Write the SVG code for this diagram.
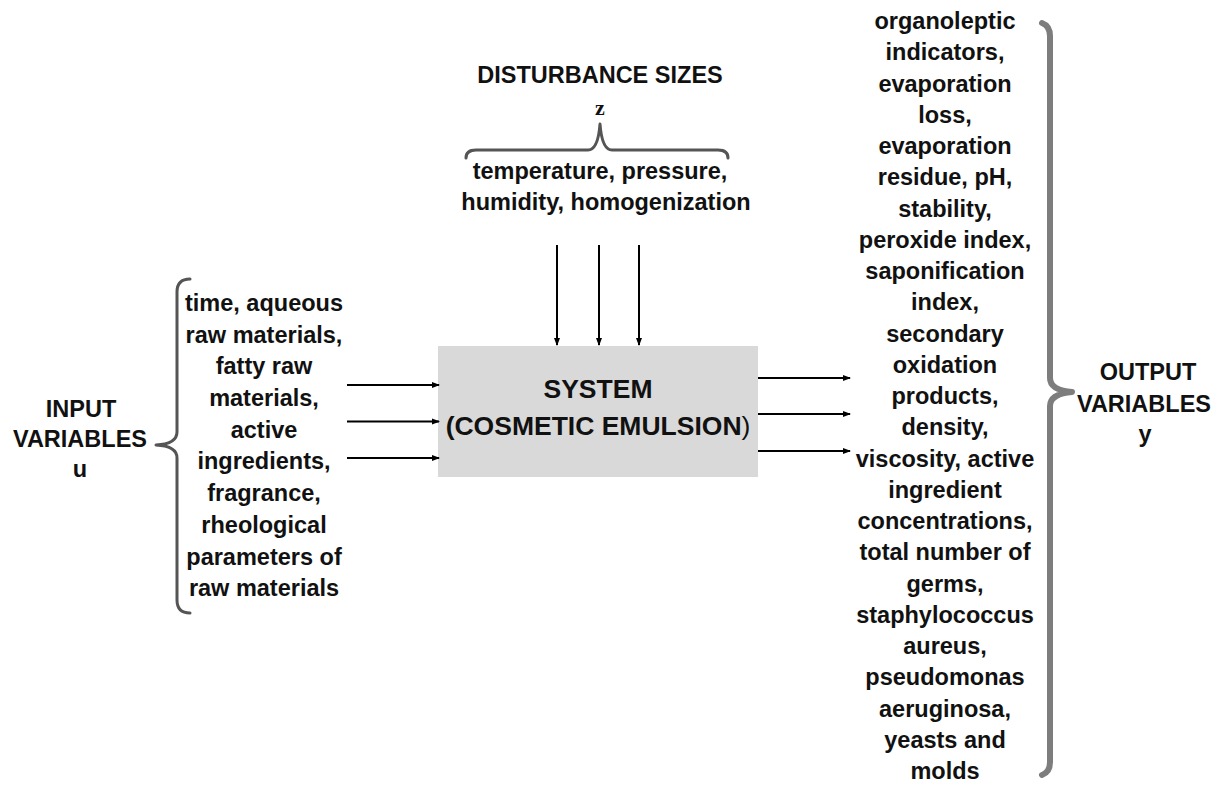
<svg xmlns="http://www.w3.org/2000/svg" width="1220" height="787" viewBox="0 0 1220 787">
<style>
.t{font-family:"Liberation Sans",Arial,sans-serif;font-weight:bold;font-size:23.5px;fill:#111;text-anchor:middle}
.b{font-family:"Liberation Sans",Arial,sans-serif;font-weight:bold;font-size:26.5px;fill:#111;text-anchor:middle}
.z{font-family:"Liberation Serif","Times New Roman",serif;font-weight:bold;font-size:22px;fill:#111;text-anchor:middle}
.c{stroke:#000;stroke-width:2;fill:none;marker-end:url(#ah)}
.br{fill:none;stroke:#555;stroke-width:3;stroke-linecap:round;stroke-linejoin:round}
.brw{fill:none;stroke:#7d7d7d;stroke-width:6;stroke-linecap:round;stroke-linejoin:round}
</style>
<defs>
<marker id="ah" markerWidth="8" markerHeight="8" refX="7" refY="4" orient="auto" markerUnits="userSpaceOnUse">
<path d="M0,1 L8,4 L0,7 Z" fill="#000"/>
</marker>
</defs>
<rect width="1220" height="787" fill="#fff"/>

<g id="system">
<rect x="438" y="346" width="320" height="131" fill="#d9d9d9"/>
<text class="b" x="598" y="398">SYSTEM</text>
<text class="b" x="598" y="435">(COSMETIC EMULSION<tspan font-weight="normal">)</tspan></text>
</g>

<g id="disturbance">
<text class="t" x="600" y="83">DISTURBANCE SIZES</text>
<text class="z" x="600" y="115">z</text>
<path class="br" d="M466 158 Q466 150 476 150 L588 150 Q598 150 600 124 Q602 150 612 150 L718 150 Q728 150 728 158" stroke-width="2.5"/>
<text class="t" x="600" y="179">temperature, pressure,</text>
<text class="t" x="606" y="210">humidity, homogenization</text>
</g>

<g id="input">
<text class="t" x="81" y="417">INPUT</text>
<text class="t" x="80" y="447">VARIABLES</text>
<text class="t" x="80" y="477">u</text>
<path class="br" d="M190 279 Q177 279 177 292 L177 432 Q177 444 156 445 Q177 446 177 458 L177 600 Q177 613 190 613"/>
<text class="t" x="264" y="311">time, aqueous</text>
<text class="t" x="264" y="343">raw materials,</text>
<text class="t" x="264" y="374">fatty raw</text>
<text class="t" x="264" y="406">materials,</text>
<text class="t" x="264" y="438">active</text>
<text class="t" x="264" y="469">ingredients,</text>
<text class="t" x="264" y="501">fragrance,</text>
<text class="t" x="264" y="533">rheological</text>
<text class="t" x="264" y="565">parameters of</text>
<text class="t" x="264" y="596">raw materials</text>
</g>

<g id="output">
<path class="brw" d="M1042 23 Q1050 26 1050 36 L1050 378 Q1050 390 1072 392 Q1050 394 1050 406 L1050 762 Q1050 772 1042 775"/>
<text class="t" x="945" y="29">organoleptic</text>
<text class="t" x="945" y="60">indicators,</text>
<text class="t" x="945" y="92">evaporation</text>
<text class="t" x="945" y="123">loss,</text>
<text class="t" x="945" y="154">evaporation</text>
<text class="t" x="945" y="185">residue, pH,</text>
<text class="t" x="945" y="217">stability,</text>
<text class="t" x="945" y="248">peroxide index,</text>
<text class="t" x="945" y="279">saponification</text>
<text class="t" x="945" y="310">index,</text>
<text class="t" x="945" y="342">secondary</text>
<text class="t" x="945" y="373">oxidation</text>
<text class="t" x="945" y="404">products,</text>
<text class="t" x="945" y="435">density,</text>
<text class="t" x="945" y="467">viscosity, active</text>
<text class="t" x="945" y="498">ingredient</text>
<text class="t" x="945" y="529">concentrations,</text>
<text class="t" x="945" y="560">total number of</text>
<text class="t" x="945" y="592">germs,</text>
<text class="t" x="945" y="623">staphylococcus</text>
<text class="t" x="945" y="654">aureus,</text>
<text class="t" x="945" y="685">pseudomonas</text>
<text class="t" x="945" y="717">aeruginosa,</text>
<text class="t" x="945" y="748">yeasts and</text>
<text class="t" x="945" y="779">molds</text>
<text class="t" x="1148" y="380">OUTPUT</text>
<text class="t" x="1144" y="412">VARIABLES</text>
<text class="t" x="1145" y="442">y</text>
</g>

<g id="connectors">
<line class="c" x1="557" y1="245" x2="557" y2="345"/>
<line class="c" x1="599" y1="245" x2="599" y2="345"/>
<line class="c" x1="639" y1="245" x2="639" y2="345"/>
<line class="c" x1="347" y1="385" x2="439" y2="385"/>
<line class="c" x1="347" y1="421.5" x2="439" y2="421.5"/>
<line class="c" x1="347" y1="458" x2="439" y2="458"/>
<line class="c" x1="758" y1="378" x2="850" y2="378"/>
<line class="c" x1="758" y1="414" x2="850" y2="414"/>
<line class="c" x1="758" y1="451" x2="850" y2="451"/>
</g>
</svg>
